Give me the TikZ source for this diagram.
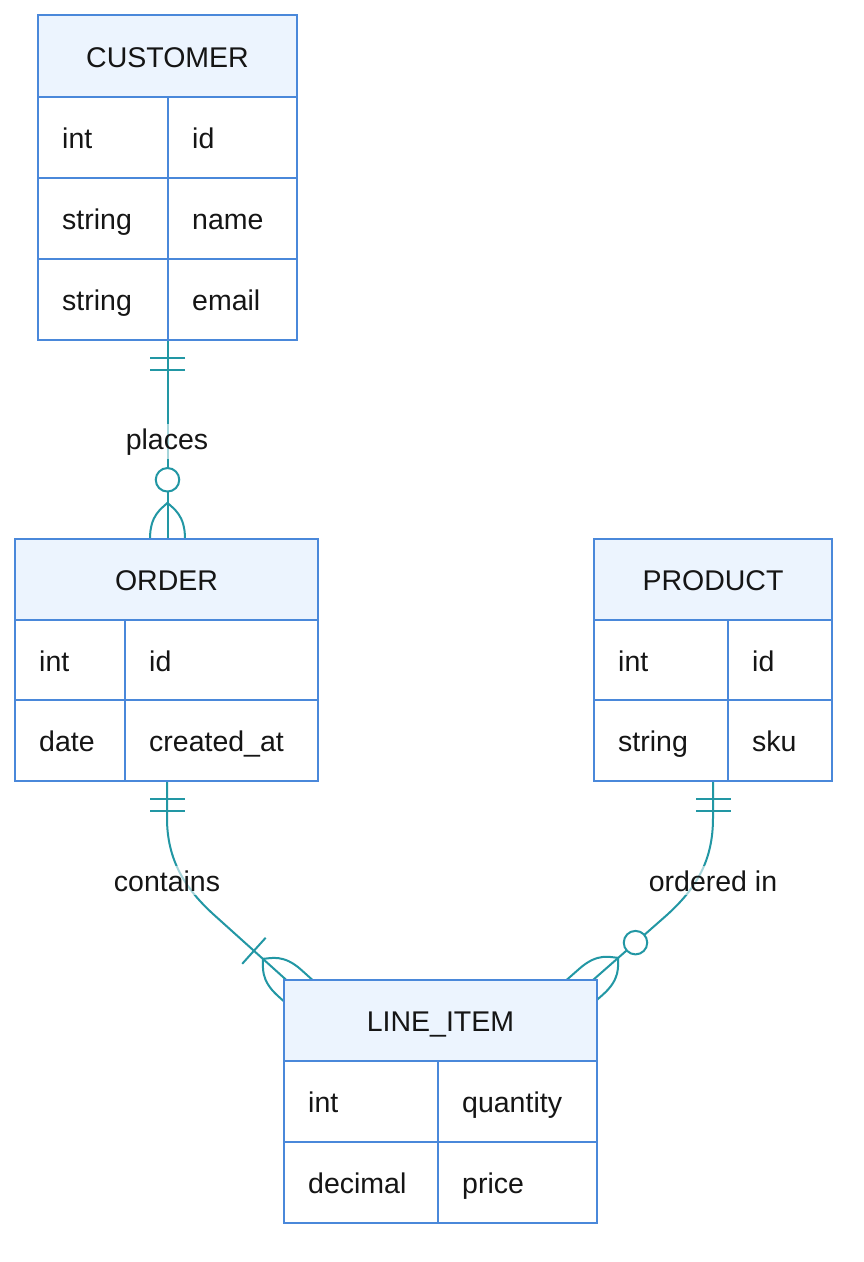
\documentclass[tikz,border=0pt]{standalone}
\usepackage{fontspec}
\setmainfont{Liberation Sans}
\usetikzlibrary{calc,fit}
\definecolor{erborder}{HTML}{4A88DA}
\definecolor{erhead}{HTML}{ECF4FE}
\definecolor{erline}{HTML}{2297A4}
\definecolor{ertext}{HTML}{151515}
\newcommand\ERfont{\fontsize{28.5}{34}\selectfont}
\newcommand\ERhead[6]{%
  \node[hdrbox, fit={(#2,#4) (#3,#5)}] (#1) {};
  \node[ttl] (#1t) at ([yshift=-11pt]#1.center) {#6};}
\newcommand\ERrow[8]{%
  \node[cellbox, fit={(#2,#5) (#3,#6)}] (#1a) {};
  \node[cellbox, fit={(#3,#5) (#4,#6)}] (#1b) {};
  \node[ctext] (#1at) at ([xshift=25pt,yshift=-11pt]#1a.west) {#7};
  \node[ctext] (#1bt) at ([xshift=25pt,yshift=-11pt]#1b.west) {#8};}
\newcommand\ERbar[4]{%
  \coordinate (#4) at ($(#1)!#3!(#2)$);
  \draw[rel] ($(#4)!17.5pt!90:(#2)$) -- ($(#4)!17.5pt!-90:(#2)$);}
\newcommand\ERfoot[3]{%
  \coordinate (#3a) at ($(#1)!36pt!(#2)$);
  \coordinate (#3x1) at ($(#1)!30pt!(#2)$);
  \coordinate (#3x2) at ($(#1)!24pt!(#2)$);
  \coordinate (#3x3) at ($(#1)!-24pt!(#2)$);
  \draw[rel] ($(#3x3)!17.5pt!90:(#2)$) -- ($(#1)!17.5pt!90:(#2)$)
    .. controls ($(#3x2)!17.5pt!90:(#2)$) and ($(#3x1)!6pt!90:(#2)$) .. (#3a)
    .. controls ($(#3x1)!6pt!-90:(#2)$) and ($(#3x2)!17.5pt!-90:(#2)$) .. ($(#1)!17.5pt!-90:(#2)$)
    -- ($(#3x3)!17.5pt!-90:(#2)$);}
\begin{document}
\begin{tikzpicture}[x=1pt,y=-1pt,
  hdrbox/.style={draw=erborder, fill=erhead, line width=2pt, inner sep=0pt},
  cellbox/.style={draw=erborder, fill=white, line width=2pt, inner sep=0pt},
  ttl/.style={anchor=base, text=ertext, font=\ERfont, inner sep=0pt},
  ctext/.style={anchor=base west, text=ertext, font=\ERfont, inner sep=0pt},
  rel/.style={draw=erline, line width=2pt, line join=round},
  zcirc/.style={circle, draw=erline, fill=white, line width=2pt, minimum size=23.5pt, inner sep=0pt},
  rlabel/.style={anchor=base, fill=white, fill opacity=0.6, text opacity=1, text=ertext, font=\ERfont, inner xsep=2pt, inner ysep=4pt}
]
\fill[white] (0,0) rectangle (864,1262);
\useasboundingbox (0,0) rectangle (864,1262);
% outer table frames (for connector anchors)
\node[inner sep=0pt, fit={(38,15) (297,340)}] (cust) {};
\node[inner sep=0pt, fit={(15,539) (318,781)}] (order) {};
\node[inner sep=0pt, fit={(594,539) (832,781)}] (product) {};
\node[inner sep=0pt, fit={(284,980) (597,1223)}] (li) {};
% connector coordinates
\coordinate (E1) at (cust.south |- order.north);
\coordinate (S2) at (167,781);
\coordinate (k2) at (167,818);
\coordinate (D2) at (215.5,916.2);
\coordinate (E2) at ([xshift=5.8pt,yshift=-3.1pt]li.north west);
\coordinate (k3) at (713,818);
\coordinate (D3) at (666,915.8);
\coordinate (E3) at ([xshift=-6pt,yshift=-1.8pt]li.north east);
% CUSTOMER -> ORDER
\draw[rel] (cust.south) -- (E1);
\ERbar{cust.south}{E1}{18pt}{b11}
\ERbar{cust.south}{E1}{30pt}{b12}
\ERfoot{E1}{cust.south}{f1}
\node[zcirc] (z1) at ($(E1)!59pt!(cust.south)$) {};
% ORDER -> LINE_ITEM
\draw[rel] (S2) -- (k2) .. controls (167,860) and (185,889) .. (D2) -- (E2);
\ERbar{S2}{k2}{18pt}{b21}
\ERbar{S2}{k2}{30pt}{b22}
\ERbar{E2}{D2}{48pt}{b23}
\ERfoot{E2}{D2}{f2}
% PRODUCT -> LINE_ITEM
\draw[rel] (product.south) -- (k3) .. controls (713,860) and (697,888) .. (D3) -- (E3);
\ERbar{product.south}{k3}{18pt}{b31}
\ERbar{product.south}{k3}{30pt}{b32}
\ERfoot{E3}{D3}{f3}
\node[zcirc] (z3) at ($(E3)!59pt!(D3)$) {};
% labels
\node[rlabel] (l1) at (167,449) {places};
\node[rlabel] (l2) at (167,891) {contains};
\node[rlabel] (l3) at (713,891) {ordered in};
% tables
\ERhead{custh}{38}{297}{15}{97}{CUSTOMER}
\ERrow{cr1}{38}{168}{297}{97}{178}{int}{id}
\ERrow{cr2}{38}{168}{297}{178}{259}{string}{name}
\ERrow{cr3}{38}{168}{297}{259}{340}{string}{email}
\ERhead{ordh}{15}{318}{539}{620}{ORDER}
\ERrow{or1}{15}{125}{318}{620}{700}{int}{id}
\ERrow{or2}{15}{125}{318}{700}{781}{date}{created\_at}
\ERhead{prodh}{594}{832}{539}{620}{PRODUCT}
\ERrow{pr1}{594}{728}{832}{620}{700}{int}{id}
\ERrow{pr2}{594}{728}{832}{700}{781}{string}{sku}
\ERhead{lih}{284}{597}{980}{1061}{LINE\_ITEM}
\ERrow{lr1}{284}{438}{597}{1061}{1142}{int}{quantity}
\ERrow{lr2}{284}{438}{597}{1142}{1223}{decimal}{price}
\end{tikzpicture}
\end{document}
